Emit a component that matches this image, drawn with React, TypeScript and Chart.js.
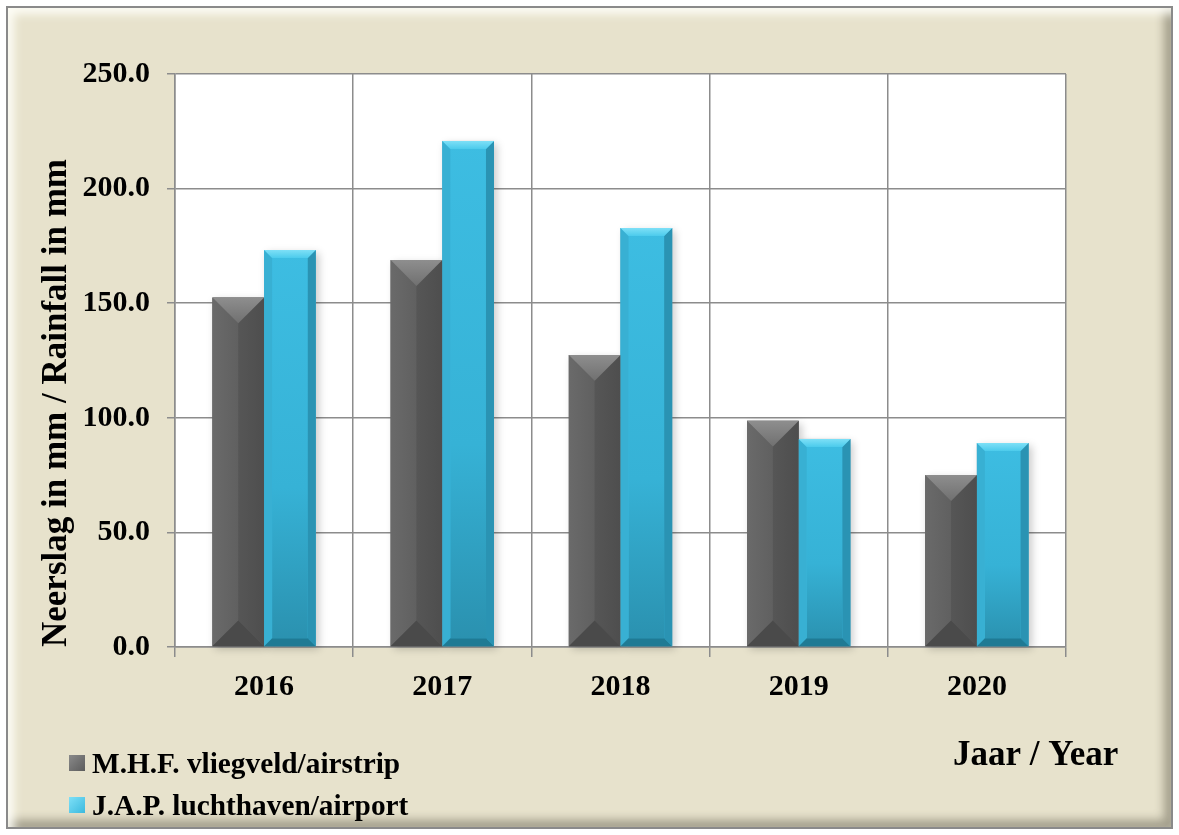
import React, { useEffect, useRef } from "react";
import { Chart, registerables } from "chart.js";
Chart.register(...registerables);

const years = ["2016", "2017", "2018", "2019", "2020"];
const mhfValues = [152.5, 168.8, 127.4, 98.7, 75.0];
const japValues = [173.2, 220.8, 182.8, 90.8, 89.0];
const seriesNames = ["M.H.F. vliegveld/airstrip", "J.A.P. luchthaven/airport"];
const yTicks = [0, 50, 100, 150, 200, 250];
const yTitle = "Neerslag in mm / Rainfall in mm";
const xTitle = "Jaar / Year";

const FAMILY = '"Liberation Serif", "Times New Roman", serif';

type Faces = { top: string; left: string; right: string; bottom: string; depth: number | null };
const faceStyles: Faces[] = [
  { top: "#8e8e8e", left: "#686868", right: "#555555", bottom: "#4a4a4a", depth: null },
  { top: "#7ee0f7", left: "#38b0d3", right: "#2a93b3", bottom: "#1f7a94", depth: 8 },
];
const baseColors = ["#5c5c5c", "#3bb9de"];
const swatchColors = ["#5c5c5c", "#3bb9de"];

const bevelPlugin = {
  id: "bevel",
  beforeDraw(chart: any) {
    const { ctx, chartArea: a } = chart;
    ctx.save();
    ctx.fillStyle = "#ffffff";
    ctx.fillRect(a.left, a.top, a.right - a.left, a.bottom - a.top);
    ctx.restore();
  },
  beforeDatasetsDraw(chart: any) {
    const ctx = chart.ctx;
    ctx.save();
    chart.data.datasets.forEach((_d: any, di: number) => {
      const meta = chart.getDatasetMeta(di);
      meta.data.forEach((el: any) => {
        const p = el.getProps(["x", "y", "base", "width"], true);
        const l = p.x - p.width / 2;
        ctx.shadowColor = "rgba(0,0,0,0.35)";
        ctx.shadowBlur = 8;
        ctx.shadowOffsetX = 3;
        ctx.shadowOffsetY = 3;
        ctx.fillStyle = "rgba(120,120,120,0.6)";
        ctx.fillRect(l, p.y, p.width, p.base - p.y);
      });
    });
    ctx.restore();
  },
  afterDatasetsDraw(chart: any) {
    const ctx = chart.ctx;
    ctx.save();
    chart.data.datasets.forEach((_d: any, di: number) => {
      const meta = chart.getDatasetMeta(di);
      const f = faceStyles[di];
      meta.data.forEach((el: any) => {
        const p = el.getProps(["x", "y", "base", "width"], true);
        const l = p.x - p.width / 2;
        const r = p.x + p.width / 2;
        const t = p.y;
        const b = p.base;
        const h = b - t;
        const d = Math.min(f.depth ?? p.width / 2, h / 2);
        const poly = (pts: number[][], fill: any) => {
          ctx.beginPath();
          ctx.moveTo(pts[0][0], pts[0][1]);
          for (let i = 1; i < pts.length; i++) ctx.lineTo(pts[i][0], pts[i][1]);
          ctx.closePath();
          ctx.fillStyle = fill;
          ctx.fill();
        };
        const g = ctx.createLinearGradient(0, t, 0, b);
        if (di === 1) {
          g.addColorStop(0, "#3dbde2");
          g.addColorStop(0.6, "#36b2d6");
          g.addColorStop(1, "#2a90ae");
        } else {
          g.addColorStop(0, "#606060");
          g.addColorStop(1, "#575757");
        }
        poly([[l + d, t + d], [r - d, t + d], [r - d, b - d], [l + d, b - d]], g);
        const tg = ctx.createLinearGradient(0, t, 0, t + d);
        tg.addColorStop(0, f.top);
        tg.addColorStop(1, di === 1 ? "#4ccbec" : "#707070");
        if (di === 0) {
          const lg = ctx.createLinearGradient(l, 0, p.x, 0);
          lg.addColorStop(0, "#6a6a6a");
          lg.addColorStop(1, "#606060");
          poly([[l, t], [p.x, t + d], [p.x, b - d], [l, b]], lg);
          const rg = ctx.createLinearGradient(p.x, 0, r, 0);
          rg.addColorStop(0, "#565656");
          rg.addColorStop(1, "#4e4e4e");
          poly([[r, t], [p.x, t + d], [p.x, b - d], [r, b]], rg);
          poly([[l, t], [r, t], [p.x, t + d]], tg);
          poly([[l, b], [r, b], [p.x, b - d]], f.bottom);
        } else {
          poly([[l, t], [l + d, t + d], [l + d, b - d], [l, b]], f.left);
          poly([[r, t], [r - d, t + d], [r - d, b - d], [r, b]], f.right);
          poly([[l, t], [r, t], [r - d, t + d], [l + d, t + d]], tg);
          poly([[l, b], [r, b], [r - d, b - d], [l + d, b - d]], f.bottom);
        }
      });
    });
    ctx.restore();
  },
  afterDraw(chart: any) {
    const ctx = chart.ctx;
    ctx.save();
    ctx.font = `bold 29.3px ${FAMILY}`;
    ctx.textBaseline = "alphabetic";
    ctx.textAlign = "left";
    const rows = [773, 815];
    seriesNames.forEach((name, i) => {
      const sy = rows[i] - 18;
      const sg = ctx.createLinearGradient(69, sy, 85, sy + 16);
      sg.addColorStop(0, i === 0 ? "#8a8a8a" : "#7ee0f7");
      sg.addColorStop(1, swatchColors[i]);
      ctx.fillStyle = sg;
      ctx.fillRect(69, sy, 16, 16);
      ctx.fillStyle = "#000";
      ctx.fillText(name, 92, rows[i]);
    });
    ctx.font = `bold 35px ${FAMILY}`;
    ctx.fillText(xTitle, 953, 765);
    ctx.restore();
  },
};

export default function App() {
  const ref = useRef<HTMLCanvasElement | null>(null);
  useEffect(() => {
    if (!ref.current) return;
    const tickFont = { family: FAMILY, size: 30, weight: "bold" as const };
    const chart = new Chart(ref.current, {
      type: "bar",
      data: {
        labels: years,
        datasets: [
          { label: seriesNames[0], data: mhfValues, backgroundColor: baseColors[0], categoryPercentage: 0.58, barPercentage: 1.0 },
          { label: seriesNames[1], data: japValues, backgroundColor: baseColors[1], categoryPercentage: 0.58, barPercentage: 1.0 },
        ],
      },
      options: {
        responsive: false,
        animation: false,
        layout: { padding: { left: 36, top: 74, right: 113, bottom: 0 } },
        plugins: { legend: { display: false }, tooltip: { enabled: false } },
        scales: {
          x: {
            grid: { color: "#8c8c8c", lineWidth: 1.5, tickLength: 10, offset: true },
            border: { color: "#8c8c8c", width: 1.5 },
            ticks: { font: tickFont, color: "#000", padding: 12 },
            afterFit: (s: any) => { s.height = 188; },
          },
          y: {
            min: 0,
            max: 250,
            afterBuildTicks: (s: any) => { s.ticks = yTicks.map((v) => ({ value: v })); },
            ticks: { font: tickFont, color: "#000", padding: 17, callback: (v: any) => Number(v).toFixed(1) },
            grid: { color: "#8c8c8c", lineWidth: 1.5, tickLength: 8 },
            border: { color: "#8c8c8c", width: 1.5 },
            title: { display: true, text: yTitle, align: "start", color: "#000", padding: 0, font: { family: FAMILY, size: 35, weight: "bold" } },
            afterFit: (s: any) => { s.width = 139; },
          },
        },
      },
      plugins: [bevelPlugin],
    });
    return () => chart.destroy();
  }, []);
  return (
    <div style={{ position: "fixed", left: 0, top: 0, width: 1179, height: 835, background: "#ffffff", overflow: "hidden" }}>
      <div
        style={{
          position: "absolute",
          left: 6,
          top: 6,
          width: 1167 - 4,
          height: 823 - 4,
          border: "2px solid #8a8a8a",
          background: "#e7e2cc",
          boxShadow: "inset 6px 6px 10px rgba(255,255,250,0.9), inset -7px -7px 10px rgba(80,75,60,0.45)",
        }}
      />
      <canvas ref={ref} width={1179} height={835} style={{ position: "absolute", left: 0, top: 0, display: "block" }} />
    </div>
  );
}
